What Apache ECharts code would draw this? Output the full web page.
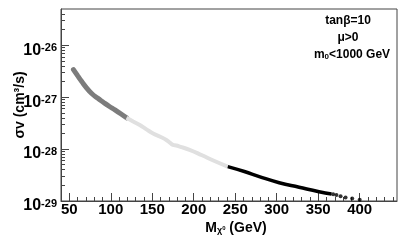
<!DOCTYPE html>
<html><head><meta charset="utf-8">
<script src="https://cdn.jsdelivr.net/npm/echarts@6/dist/echarts.min.js"></script>
<style>html,body{margin:0;padding:0;background:#fff}#c{width:407px;height:240px}</style>
</head><body><div id="c"></div>
<script>
// Tick labels / tick positions
const xMajorTicks = [50, 100, 150, 200, 250, 300, 350, 400];
const xMinorTicks = [40, 60, 70, 80, 90, 110, 120, 130, 140, 160, 170, 180, 190, 210, 220, 230, 240, 260, 270, 280, 290, 310, 320, 330, 340, 360, 370, 380, 390, 410, 420, 430, 440];
const yMajorTicks = [1e-29, 1e-28, 1e-27, 1e-26];
const yMinorTicks = [2e-29,3e-29,4e-29,5e-29,6e-29,7e-29,8e-29,9e-29,
                     2e-28,3e-28,4e-28,5e-28,6e-28,7e-28,8e-28,9e-28,
                     2e-27,3e-27,4e-27,5e-27,6e-27,7e-27,8e-27,9e-27,
                     2e-26,3e-26,4e-26];
const yMin = 1e-29, yMax = 5e-26;
// Series data: [M_chi (GeV), sigma v (cm^3/s)]
const darkGraySegment = [[55,3.4e-27],[60,2.6e-27],[65,2.0e-27],[71,1.5e-27],[77,1.18e-27],[84,9.6e-28],[91,8.0e-28],[98,6.7e-28],[105,5.7e-28],[112,4.8e-28],[119,4.0e-28]];
const lightGraySegment = [[119,4.0e-28],[127,3.4e-28],[135,2.9e-28],[143,2.4e-28],[151,2.0e-28],[159,1.75e-28],[167,1.5e-28],[172,1.3e-28],[175,1.2e-28],[179,1.17e-28],[183,1.12e-28],[195,9.7e-29],[210,7.6e-29],[225,5.9e-29],[241,4.6e-29]];
const blackSegment = [[241,4.6e-29],[261,3.7e-29],[279,2.95e-29],[303,2.25e-29],[327,1.84e-29],[351,1.51e-29],[366,1.36e-29]];
const blackDots = [[368,1.35e-29],[372,1.3e-29],[377,1.24e-29],[383,1.17e-29],[391,1.12e-29],[400,1.06e-29]];

// The y axis is logarithmic: values are placed on it by their base-10 exponent.
const lg = v => Math.log10(v);
const toLog = arr => arr.map(p => [p[0], lg(p[1])]);

const FONT = '"Liberation Sans", Arial, sans-serif';
const chart = echarts.init(document.getElementById('c'), null, {renderer: 'canvas'});
const tickStyle = {color: '#444', width: 1};
chart.setOption({
  animation: false,
  grid: {left: 61, right: 10, top: 9, bottom: 39, show: true, borderColor: '#444', borderWidth: 1, backgroundColor: 'transparent'},
  xAxis: [
    {type: 'value', min: 40, max: 445, position: 'bottom',
     axisLine: {show: true, lineStyle: {color: '#444'}},
     splitLine: {show: false},
     axisTick: {show: true, inside: true, length: 8, lineStyle: tickStyle, customValues: xMajorTicks},
     axisLabel: {show: true, customValues: xMajorTicks, fontFamily: FONT, fontWeight: 'bold', fontSize: 15, color: '#000', margin: 1}},
    {type: 'value', min: 40, max: 445, position: 'bottom',
     axisLine: {show: false}, splitLine: {show: false}, axisLabel: {show: false},
     axisTick: {show: true, inside: true, length: 4, lineStyle: tickStyle, customValues: xMinorTicks}}
  ],
  yAxis: [
    {type: 'value', min: lg(yMin), max: lg(yMax), position: 'left',
     axisLine: {show: true, lineStyle: {color: '#444'}},
     splitLine: {show: false},
     axisTick: {show: true, inside: true, length: 8, lineStyle: tickStyle, customValues: yMajorTicks.map(lg)},
     axisLabel: {show: true, customValues: yMajorTicks.map(lg), margin: 4, padding: [10, 0, 0, 0],
       formatter: v => '{b|10}{s|' + Math.round(v) + '}',
       rich: {
         b: {fontFamily: FONT, fontWeight: 'bold', fontSize: 16, color: '#000', verticalAlign: 'bottom'},
         s: {fontFamily: FONT, fontWeight: 'bold', fontSize: 11, color: '#000', verticalAlign: 'top'}
       }}},
    {type: 'value', min: lg(yMin), max: lg(yMax), position: 'left',
     axisLine: {show: false}, splitLine: {show: false}, axisLabel: {show: false},
     axisTick: {show: true, inside: true, length: 4, lineStyle: tickStyle, customValues: yMinorTicks.map(lg)}}
  ],
  series: [
    {type: 'line', data: toLog(darkGraySegment), smooth: true, showSymbol: false, symbol: 'none',
     lineStyle: {color: '#7c7c7c', width: 5, cap: 'round'}},
    {type: 'line', data: toLog(lightGraySegment), smooth: true, showSymbol: false, symbol: 'none',
     lineStyle: {color: '#e0e0e0', width: 4}},
    {type: 'line', data: toLog(blackSegment), smooth: true, showSymbol: false, symbol: 'none',
     lineStyle: {color: '#000', width: 3.5}},
    {type: 'scatter', data: toLog(blackDots), symbol: 'circle', symbolSize: 4,
     itemStyle: {color: '#000'}}
  ],
  graphic: [
    {type: 'text', x: 348, y: 21, style: {text: 'tanβ=10', font: 'bold 12px ' + FONT, fill: '#000', align: 'center', verticalAlign: 'middle'}},
    {type: 'text', x: 348, y: 38, style: {text: 'μ>0', font: 'bold 12px ' + FONT, fill: '#000', align: 'center', verticalAlign: 'middle'}},
    {type: 'text', x: 352, y: 55, style: {text: '{a|m}{sub|0}{a|<1000 GeV}', align: 'center', verticalAlign: 'middle',
      rich: {a: {font: 'bold 12px ' + FONT, fill: '#000', verticalAlign: 'middle'},
             sub: {font: 'bold 8px ' + FONT, fill: '#000', verticalAlign: 'bottom', padding: [4,0,0,0]}}}},
    {type: 'text', x: 20, y: 105, rotation: Math.PI / 2, style: {text: 'σv (cm³/s)', font: 'bold 14px ' + FONT, fill: '#000', align: 'center', verticalAlign: 'middle'}},
    {type: 'text', x: 236, y: 228, style: {text: '{m|M}{c|χ}{z|0}{m| (GeV)}', align: 'center', verticalAlign: 'middle',
      rich: {m: {font: 'bold 14px ' + FONT, fill: '#000', verticalAlign: 'middle'},
             c: {font: 'bold 9px ' + FONT, fill: '#000', verticalAlign: 'bottom', padding: [6,0,0,0]},
             z: {font: 'bold 6px ' + FONT, fill: '#000', verticalAlign: 'middle'}}}}
  ]
});
</script></body></html>
